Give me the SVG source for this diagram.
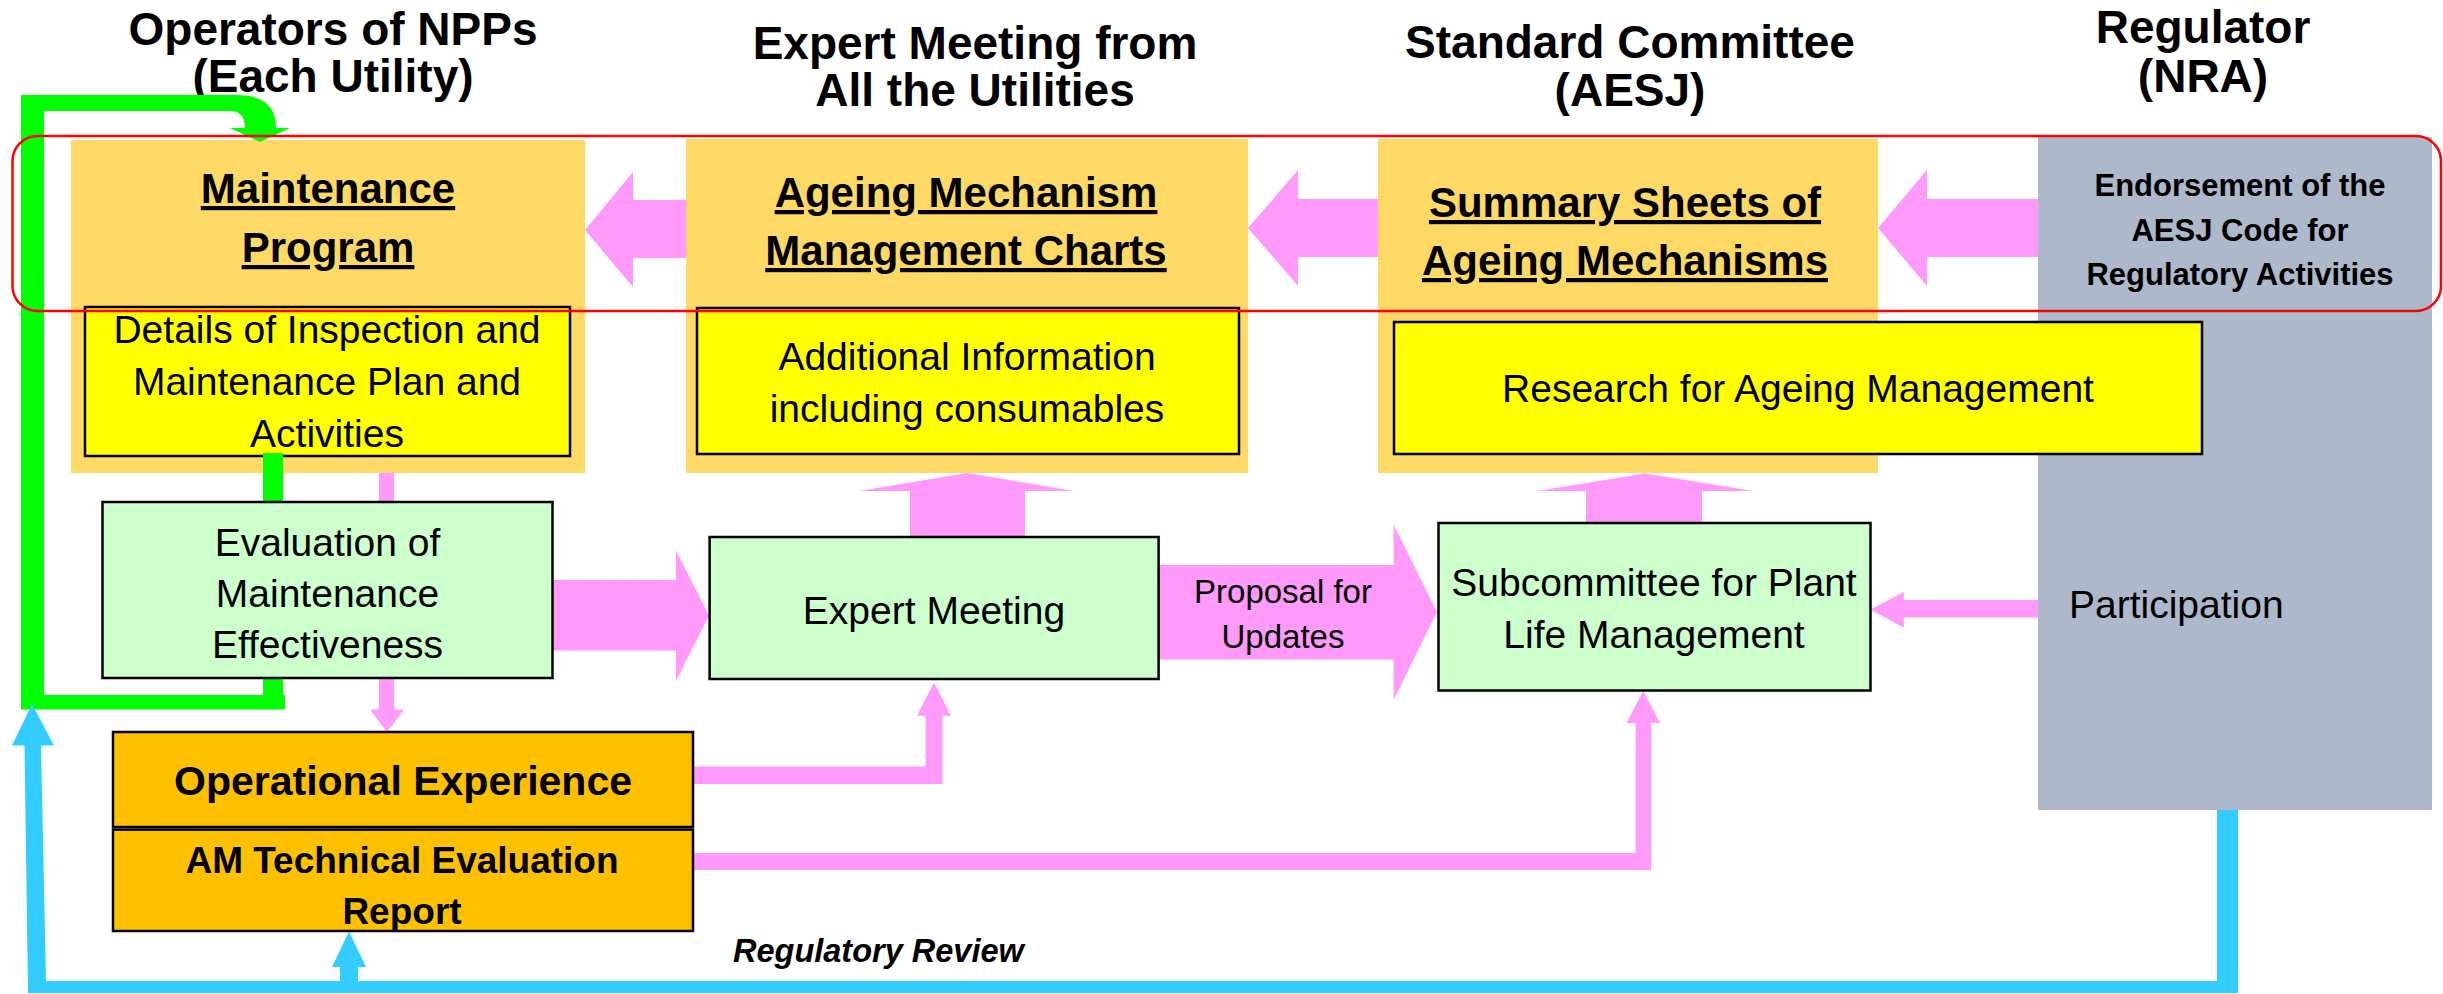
<svg xmlns="http://www.w3.org/2000/svg" width="2443" height="994" viewBox="0 0 2443 994">
<style>
text{font-family:"Liberation Sans",Arial,sans-serif;fill:#000;text-anchor:middle}
.hd{font-size:46px;font-weight:bold}
.tt{font-size:42px;font-weight:bold;text-decoration:underline}
.bd{font-size:39px}
.ob{fill:#FFD966}
.yb{fill:#FFFF00;stroke:#000;stroke-width:2.5}
.gb{fill:#CCFFCC;stroke:#000;stroke-width:2.5}
.ab{fill:#FFC000;stroke:#000;stroke-width:2.5}
.pk{fill:#FF99FA}
</style>
<rect width="2443" height="994" fill="#fff"/>
<g id="headers">
<text class="hd" x="333" y="45">Operators of NPPs</text>
<text class="hd" x="333" y="92">(Each Utility)</text>
<text class="hd" x="975" y="59">Expert Meeting from</text>
<text class="hd" x="975" y="106">All the Utilities</text>
<text class="hd" x="1630" y="58">Standard Committee</text>
<text class="hd" x="1630" y="106">(AESJ)</text>
<text class="hd" x="2203" y="43">Regulator</text>
<text class="hd" x="2203" y="92">(NRA)</text>
</g>
<g id="maintenance-program">
<rect class="ob" x="71" y="140" width="514" height="333"/>
<text class="tt" x="328" y="203">Maintenance</text>
<text class="tt" x="328" y="262">Program</text>
</g>
<g id="ageing-charts">
<rect class="ob" x="686" y="139" width="562" height="334"/>
<text class="tt" x="966" y="207">Ageing Mechanism</text>
<text class="tt" x="966" y="265">Management Charts</text>
</g>
<g id="summary-sheets">
<rect class="ob" x="1378" y="139" width="500" height="334"/>
<text class="tt" x="1625" y="217">Summary Sheets of</text>
<text class="tt" x="1625" y="275">Ageing Mechanisms</text>
</g>
<g id="regulator">
<rect x="2038" y="137" width="394" height="673" fill="#ADB9CA"/>
<text x="2240" y="196" style="font-size:31px;font-weight:bold">Endorsement of the</text>
<text x="2240" y="241" style="font-size:31px;font-weight:bold">AESJ Code for</text>
<text x="2240" y="285" style="font-size:31px;font-weight:bold">Regulatory Activities</text>
<text class="bd" x="2069" y="618" style="text-anchor:start">Participation</text>
</g>
<g id="details">
<rect class="yb" x="85" y="307" width="485" height="149"/>
<text class="bd" x="327" y="343">Details of Inspection and</text>
<text class="bd" x="327" y="395">Maintenance Plan and</text>
<text class="bd" x="327" y="447">Activities</text>
</g>
<g id="additional-info">
<rect class="yb" x="697" y="308" width="542" height="146"/>
<text class="bd" x="967" y="370">Additional Information</text>
<text class="bd" x="967" y="422">including consumables</text>
</g>
<g id="research">
<rect class="yb" x="1394" y="322" width="808" height="132"/>
<text class="bd" x="1798" y="402">Research for Ageing Management</text>
</g>
<g id="connectors">
<path fill="#00FF00" d="M21,95 L236,95 Q276,95 276,128 L290,128 L260,142 L230,128 L245,128 Q245,111 230,111 L44,111 L44,695 L263,695 L263,453 L283,453 L283,695 L285,695 L285,709.5 L21,709.5 Z"/>
<path fill="#33CCFF" d="M24.5,745.6 L12,745.6 L32,704 L54,745.6 L41,745.6 L46,981 L340,981 L340,967 L332,967 L349,931.6 L366,967 L358,967 L358,981 L2217,981 L2217,810 L2238,810 L2238,993 L28,993 Z"/>
<path class="pk" d="M686,200 L633,200 L633,172 L585,230 L633,287 L633,258 L686,258 Z"/>
<path class="pk" d="M1378,199 L1298,199 L1298,170 L1248,228 L1298,286 L1298,257 L1378,257 Z"/>
<path class="pk" d="M2038,199 L1927,199 L1927,170 L1878,228 L1927,286 L1927,257 L2038,257 Z"/>
<path class="pk" d="M910,537 L910,491 L859,491 L967,473 L1074,491 L1025,491 L1025,537 Z"/>
<path class="pk" d="M1586,523 L1586,491 L1537,491 L1645,473.6 L1753,491 L1702,491 L1702,523 Z"/>
<path class="pk" d="M379,473 L394,473 L394,709.5 L404,709.5 L387,732 L370,709.5 L379,709.5 Z"/>
<path class="pk" d="M552.5,580 L676,580 L676,550.6 L709,615.5 L676,680.7 L676,650.5 L552.5,650.5 Z"/>
<path class="pk" d="M1158.6,565 L1393.6,565 L1393.6,524.6 L1437,612 L1393.6,700 L1393.6,659.6 L1158.6,659.6 Z"/>
<path class="pk" d="M2038,600 L1903.8,600 L1903.8,592 L1870.6,609.6 L1903.8,627.7 L1903.8,617.6 L2038,617.6 Z"/>
<path class="pk" d="M693,766.5 L925.7,766.5 L925.7,715.8 L917,715.8 L934,682.5 L951,715.8 L942.5,715.8 L942.5,784 L693,784 Z"/>
<path class="pk" d="M693,853 L1635.6,853 L1635.6,723 L1626.5,723 L1643.3,691 L1660,723 L1651,723 L1651,870 L693,870 Z"/>
<text x="1283" y="603" style="font-size:33px">Proposal for</text>
<text x="1283" y="648" style="font-size:33px">Updates</text>
<text x="733" y="962" style="font-size:32.5px;font-weight:bold;font-style:italic;text-anchor:start">Regulatory Review</text>
</g>
<g id="evaluation">
<rect class="gb" x="102.5" y="502" width="450" height="176"/>
<text class="bd" x="327.5" y="556">Evaluation of</text>
<text class="bd" x="327.5" y="607">Maintenance</text>
<text class="bd" x="327.5" y="658">Effectiveness</text>
</g>
<g id="expert-meeting">
<rect class="gb" x="709.6" y="537" width="449" height="142"/>
<text class="bd" x="934" y="623.5">Expert Meeting</text>
</g>
<g id="subcommittee">
<rect class="gb" x="1438.5" y="523" width="432" height="167.5"/>
<text class="bd" x="1654" y="596">Subcommittee for Plant</text>
<text class="bd" x="1654" y="648">Life Management</text>
</g>
<g id="operational-experience">
<rect class="ab" x="113" y="732" width="580" height="95"/>
<text x="403" y="795" style="font-size:41px;font-weight:bold">Operational Experience</text>
</g>
<g id="am-report">
<rect class="ab" x="113" y="829.6" width="580" height="101.4"/>
<text x="402" y="873" style="font-size:37px;font-weight:bold">AM Technical Evaluation</text>
<text x="402" y="924" style="font-size:37px;font-weight:bold">Report</text>
</g>
<g id="red-frame">
<rect x="12.5" y="136" width="2428.5" height="175" rx="25" ry="25" fill="none" stroke="#FF0000" stroke-width="2.5"/>
</g>
</svg>
